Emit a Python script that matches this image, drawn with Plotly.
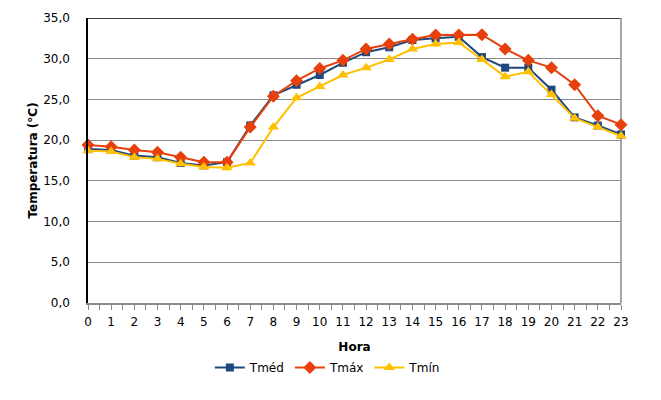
import plotly.graph_objects as go

hours = list(range(24))
t_med = [18.9, 18.8, 18.1, 17.9, 17.2, 16.9, 17.3, 21.8, 25.5, 26.8, 28.0, 29.5,
         30.8, 31.4, 32.3, 32.5, 32.7, 30.2, 28.9, 28.9, 26.2, 22.8, 21.8, 20.7]
t_max = [19.4, 19.2, 18.8, 18.5, 17.9, 17.3, 17.3, 21.6, 25.4, 27.3, 28.8, 29.8,
         31.2, 31.8, 32.4, 32.9, 32.9, 32.95, 31.2, 29.8, 28.9, 26.8, 23.0, 21.9]
t_min = [18.7, 18.6, 17.9, 17.7, 17.1, 16.7, 16.6, 17.2, 21.6, 25.2, 26.6, 28.0,
         28.9, 29.9, 31.2, 31.8, 32.0, 29.9, 27.8, 28.4, 25.6, 22.7, 21.6, 20.5]
y_ticks = [0, 5, 10, 15, 20, 25, 30, 35]
y_labels = ["0,0", "5,0", "10,0", "15,0", "20,0", "25,0", "30,0", "35,0"]

fig = go.Figure()

# series order as in the legend
series = [
    ("Tméd", t_med, "#1F497D", "square", 8),
    ("Tmáx", t_max, "#E8400C", "diamond", 10),
    ("Tmín", t_min, "#FFC000", "triangle-up", 10),
]
for name, vals, color, symbol, size in series:
    fig.add_trace(go.Scatter(
        x=hours, y=vals, name=name, mode="lines+markers",
        line=dict(color=color, width=2),
        marker=dict(symbol=symbol, size=size, color=color),
        cliponaxis=False,
    ))

# top black border and grey right border of the plot area (Excel quirk)
fig.add_shape(type="line", xref="paper", yref="y", x0=0, x1=1, y0=35, y1=35,
              line=dict(color="black", width=1.5), layer="below")
fig.add_shape(type="line", xref="paper", yref="y", x0=1, x1=1, y0=0, y1=35,
              line=dict(color="#8a8a8a", width=1.5), layer="below")

font = "DejaVu Sans, Verdana, sans-serif"
fig.update_layout(
    width=661, height=400,
    margin=dict(l=88, r=40, t=18, b=97),
    paper_bgcolor="white", plot_bgcolor="white",
    font=dict(family=font, size=12, color="black"),
    showlegend=True,
    legend=dict(orientation="h", x=0.45, xanchor="center", y=-0.175, yanchor="top",
                font=dict(size=12), itemwidth=30, tracegroupgap=0),
)
fig.update_xaxes(
    range=[0, 23], tickmode="array", tickvals=hours, automargin=False,
    ticks="outside", ticklen=5, tickcolor="#8a8a8a",
    minor=dict(dtick=0.5, tick0=0, ticks="outside", ticklen=5, tickcolor="#8a8a8a", showgrid=False),
    showline=True, linecolor="#8a8a8a", linewidth=1.5,
    showgrid=False, zeroline=False,
    title=dict(text="<b>Hora</b>", standoff=14, font=dict(size=12)),
    ticklabelstandoff=2,
)
fig.update_yaxes(
    range=[0, 35], tickmode="array", tickvals=y_ticks, ticktext=y_labels, automargin=False,
    ticks="", showline=True, linecolor="black", linewidth=1.5,
    showgrid=True, gridcolor="#8a8a8a", gridwidth=1.2, zeroline=False,
    ticklabelstandoff=14,
    title=dict(text="<b>Temperatura (°C)</b>", standoff=3, font=dict(size=12)),
)

# drop the default page margin so the chart sits at the window's corner
fig.write_html("out.html", config={"displayModeBar": False},
               post_script="document.body.style.margin='0';")
